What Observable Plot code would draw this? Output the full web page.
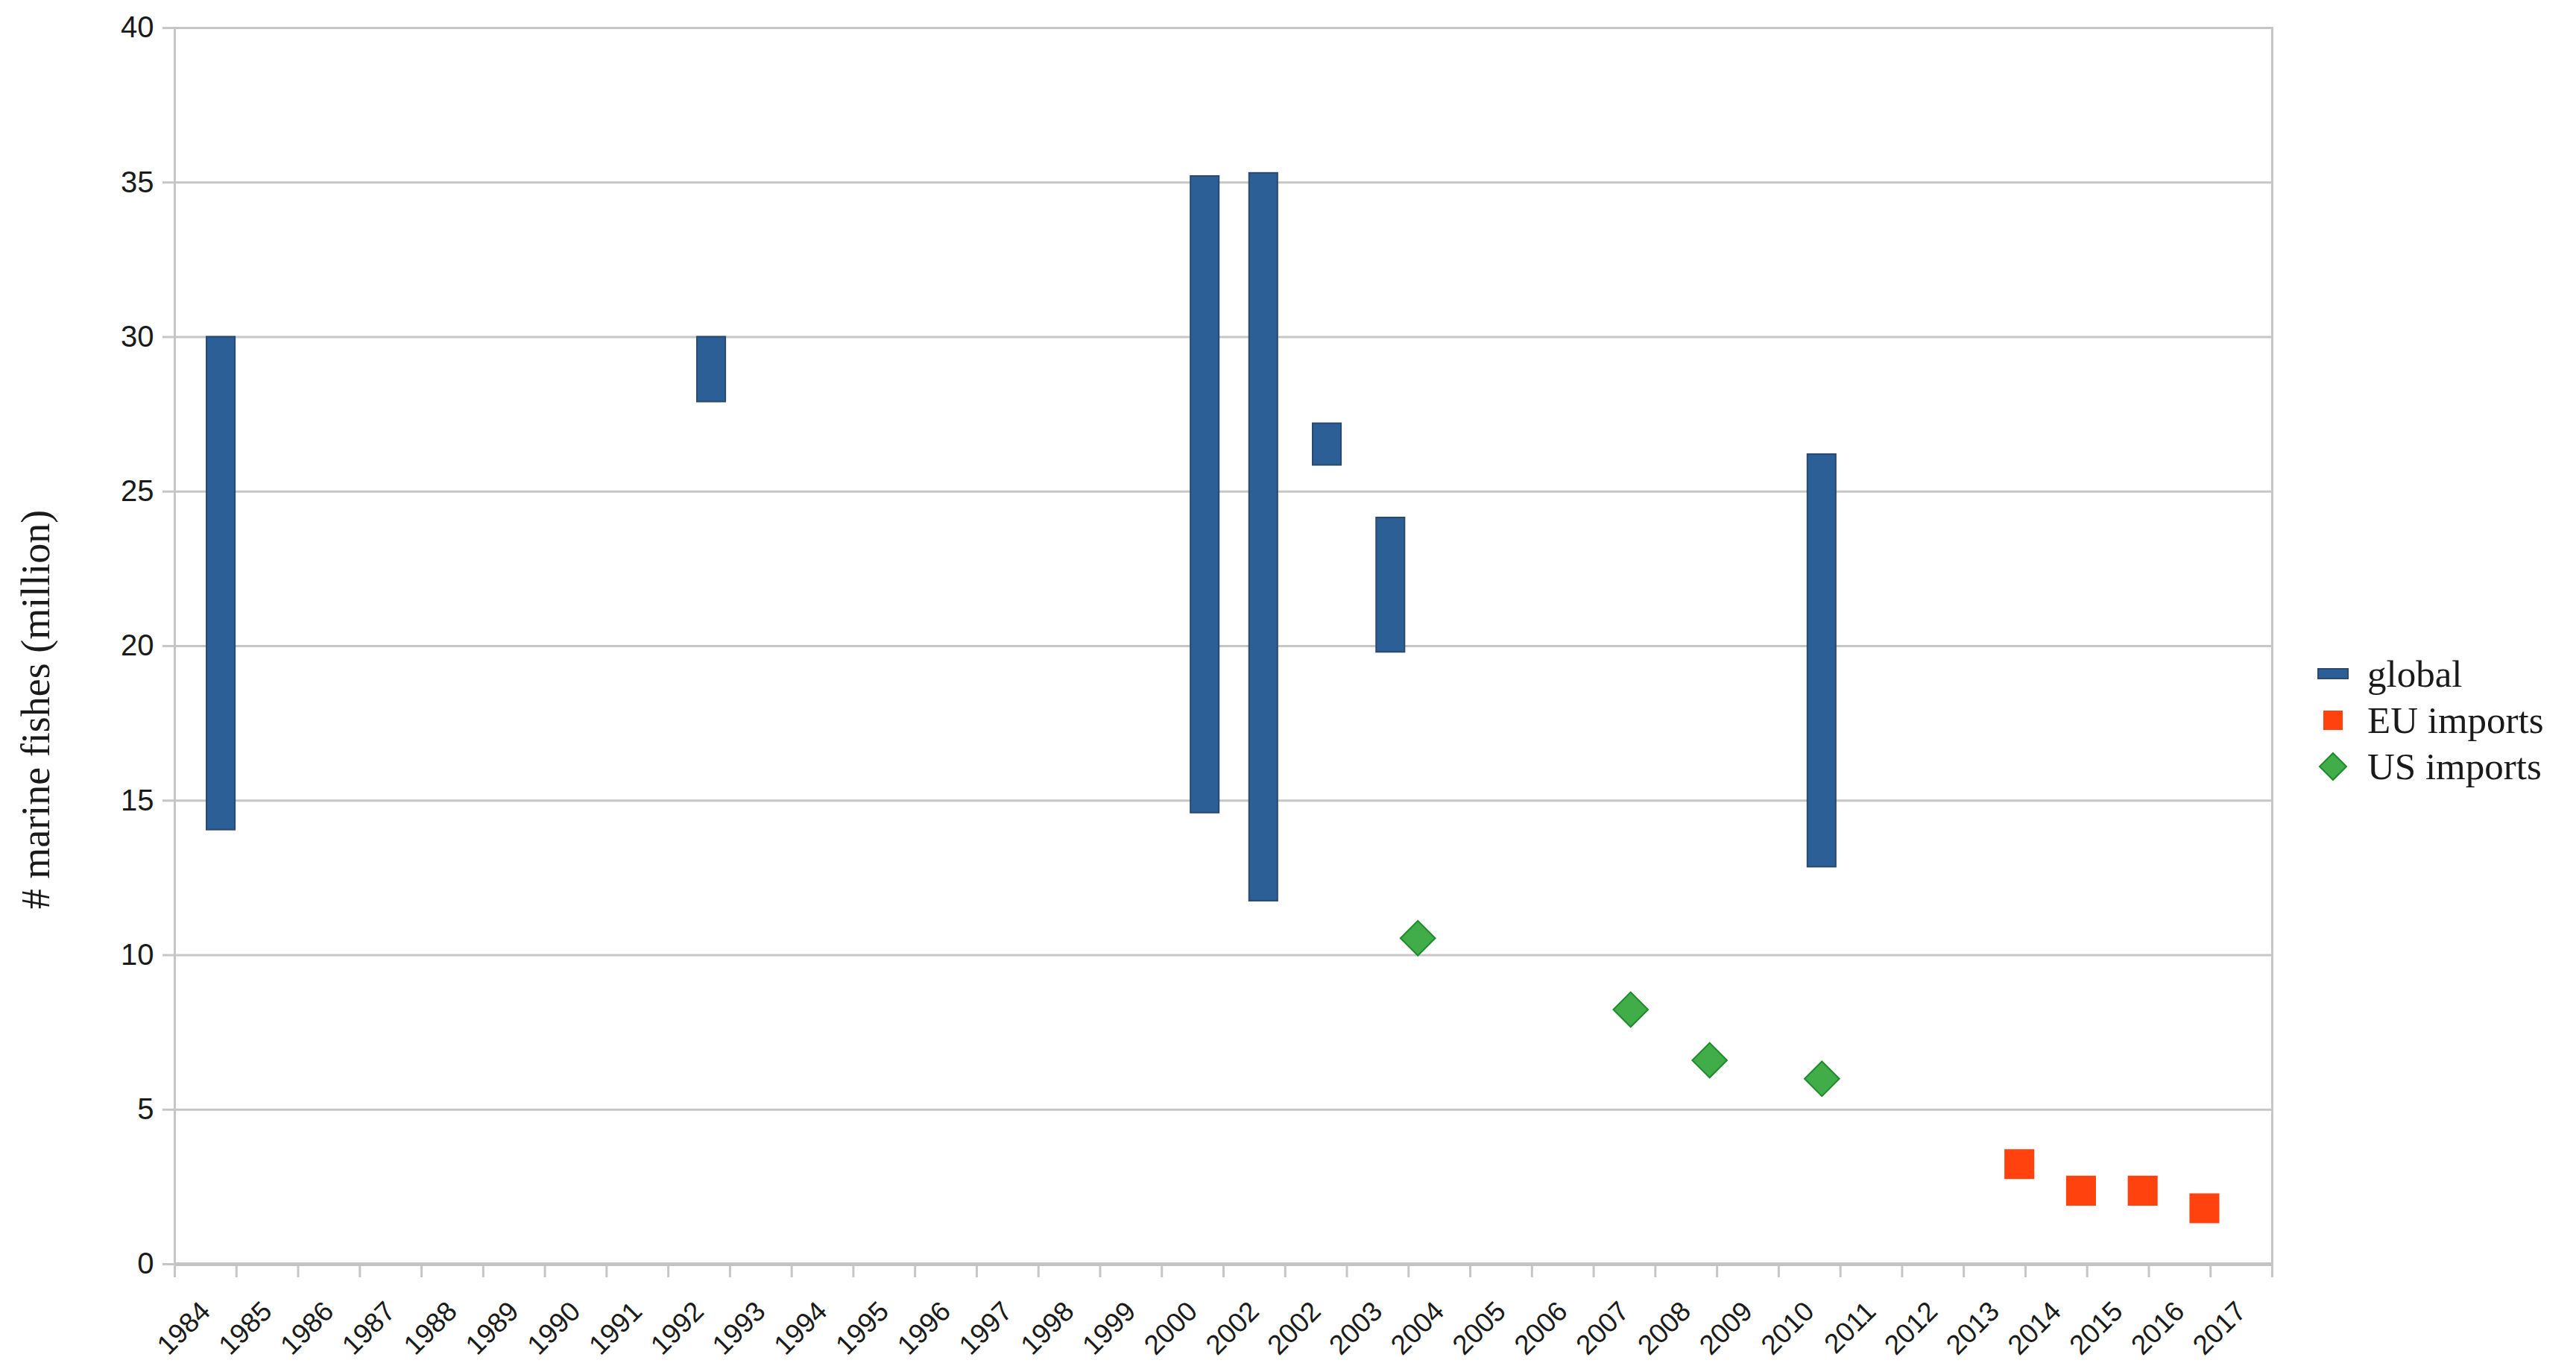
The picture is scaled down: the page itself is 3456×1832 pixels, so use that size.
<!DOCTYPE html>
<html>
<head>
<meta charset="utf-8">
<script src="https://cdn.jsdelivr.net/npm/d3@7"></script>
<script src="https://cdn.jsdelivr.net/npm/@observablehq/plot@0.6"></script>
<style>
  html, body { margin: 0; padding: 0; background: #fff; }
  #wrap { position: relative; width: 3456px; height: 1832px; }
  #legend { position: absolute; left: 3106px; top: 873px; font-family: "Liberation Serif", serif; font-size: 51px; color: #1a1a1a; }
  .row { display: flex; align-items: center; height: 62px; }
  .sym { width: 48px; height: 62px; display: flex; align-items: center; justify-content: center; margin-right: 22px; }
</style>
</head>
<body>
<div id="wrap"><div id="chart"></div><div id="legend"></div></div>
<script>
// Category axis labels (as printed)
const categories = ["1984","1985","1986","1987","1988","1989","1990","1991","1992","1993","1994","1995","1996","1997","1998","1999","2000","2002","2002","2003","2004","2005","2006","2007","2008","2009","2010","2011","2012","2013","2014","2015","2016","2017"];

// global: range bars (position on the category axis, low, high)
const globalPos  = [0.75, 8.70, 16.70, 17.65, 18.68, 19.71, 26.70];
const globalLow  = [14.05, 27.90, 14.60, 11.75, 25.85, 19.80, 12.85];
const globalHigh = [30.00, 30.00, 35.20, 35.30, 27.20, 24.15, 26.20];

// EU imports
const euPos    = [29.90, 30.90, 31.90, 32.90];
const euValues = [3.24, 2.38, 2.38, 1.81];

// US imports
const usPos    = [20.15, 23.60, 24.88, 26.70];
const usValues = [10.55, 8.24, 6.60, 6.00];

const yTicks = [0, 5, 10, 15, 20, 25, 30, 35, 40];
const seriesNames = ["global", "EU imports", "US imports"];

const globalData = globalPos.map((p, i) => ({pos: p, low: globalLow[i], high: globalHigh[i]}));
const euData = euPos.map((p, i) => ({pos: p, value: euValues[i]}));
const usData = usPos.map((p, i) => ({pos: p, value: usValues[i]}));

const halfW = 0.23;
const gridColor = "#c6c6c6";

const chart = Plot.plot({
  width: 3100,
  height: 1832,
  marginLeft: 234,
  marginRight: 52,
  marginTop: 37,
  marginBottom: 137,
  style: {fontFamily: "'Liberation Sans', Arial, sans-serif", fontSize: "40px", background: "#fff", color: "#1a1a1a"},
  x: {type: "linear", domain: [0, categories.length]},
  y: {domain: [0, 40]},
  marks: [
    Plot.gridY(yTicks, {stroke: gridColor, strokeOpacity: 1, strokeWidth: 3}),
    Plot.frame({stroke: gridColor, strokeWidth: 3}),
    Plot.axisY(yTicks, {tickSize: 16, tickPadding: 12, fontSize: 40, stroke: gridColor, strokeWidth: 3, fill: "#1a1a1a", label: null}),
    Plot.axisX(d3.range(categories.length + 1), {tickSize: 18, stroke: gridColor, strokeWidth: 3, tickFormat: () => "", label: null}),
    Plot.axisX(categories.map((c, i) => i + 0.5), {tickSize: 0, tickPadding: 57, tickRotate: -45, textAnchor: "end", fontSize: 37, fill: "#1a1a1a", tickFormat: d => categories[Math.floor(d)], label: null}),
    Plot.ruleY([0], {stroke: "#c4c4c4", strokeWidth: 5}),
    Plot.rect(globalData, {x1: d => d.pos - halfW, x2: d => d.pos + halfW, y1: "low", y2: "high", fill: "#2b5f96", stroke: "#294a6e", strokeWidth: 2}),
    Plot.dot(usData, {x: "pos", y: "value", symbol: "diamond2", r: 21, fill: "#41ad48", stroke: "#1f8a2c", strokeWidth: 2, fillOpacity: 1}),
    Plot.dot(euData, {x: "pos", y: "value", symbol: "square", r: 22.6, fill: "#ff420e", stroke: "none", fillOpacity: 1}),
    Plot.text(["# marine fishes (million)"], {text: d => d, frameAnchor: "left", textAnchor: "middle", lineAnchor: "middle", rotate: -90, dx: -186, dy: 85, fontSize: 54, fontFamily: "'Liberation Serif', serif", fill: "#1a1a1a"})
  ]
});
document.getElementById("chart").appendChild(chart);

// Legend (HTML, to the right of the plot)
const symbols = [
  '<svg width="44" height="20"><rect x="2" y="3" width="40" height="13" fill="#2b5f96" stroke="#294a6e" stroke-width="2"/></svg>',
  '<svg width="30" height="30"><rect x="2" y="2" width="26" height="26" fill="#ff420e"/></svg>',
  '<svg width="40" height="40"><polygon points="20,2 38,20 20,38 2,20" fill="#41ad48" stroke="#1f8a2c" stroke-width="2"/></svg>'
];
const legend = document.getElementById("legend");
seriesNames.forEach((name, i) => {
  const row = document.createElement("div");
  row.className = "row";
  row.innerHTML = '<div class="sym">' + symbols[i] + '</div><span>' + name + '</span>';
  legend.appendChild(row);
});
</script>
</body>
</html>
